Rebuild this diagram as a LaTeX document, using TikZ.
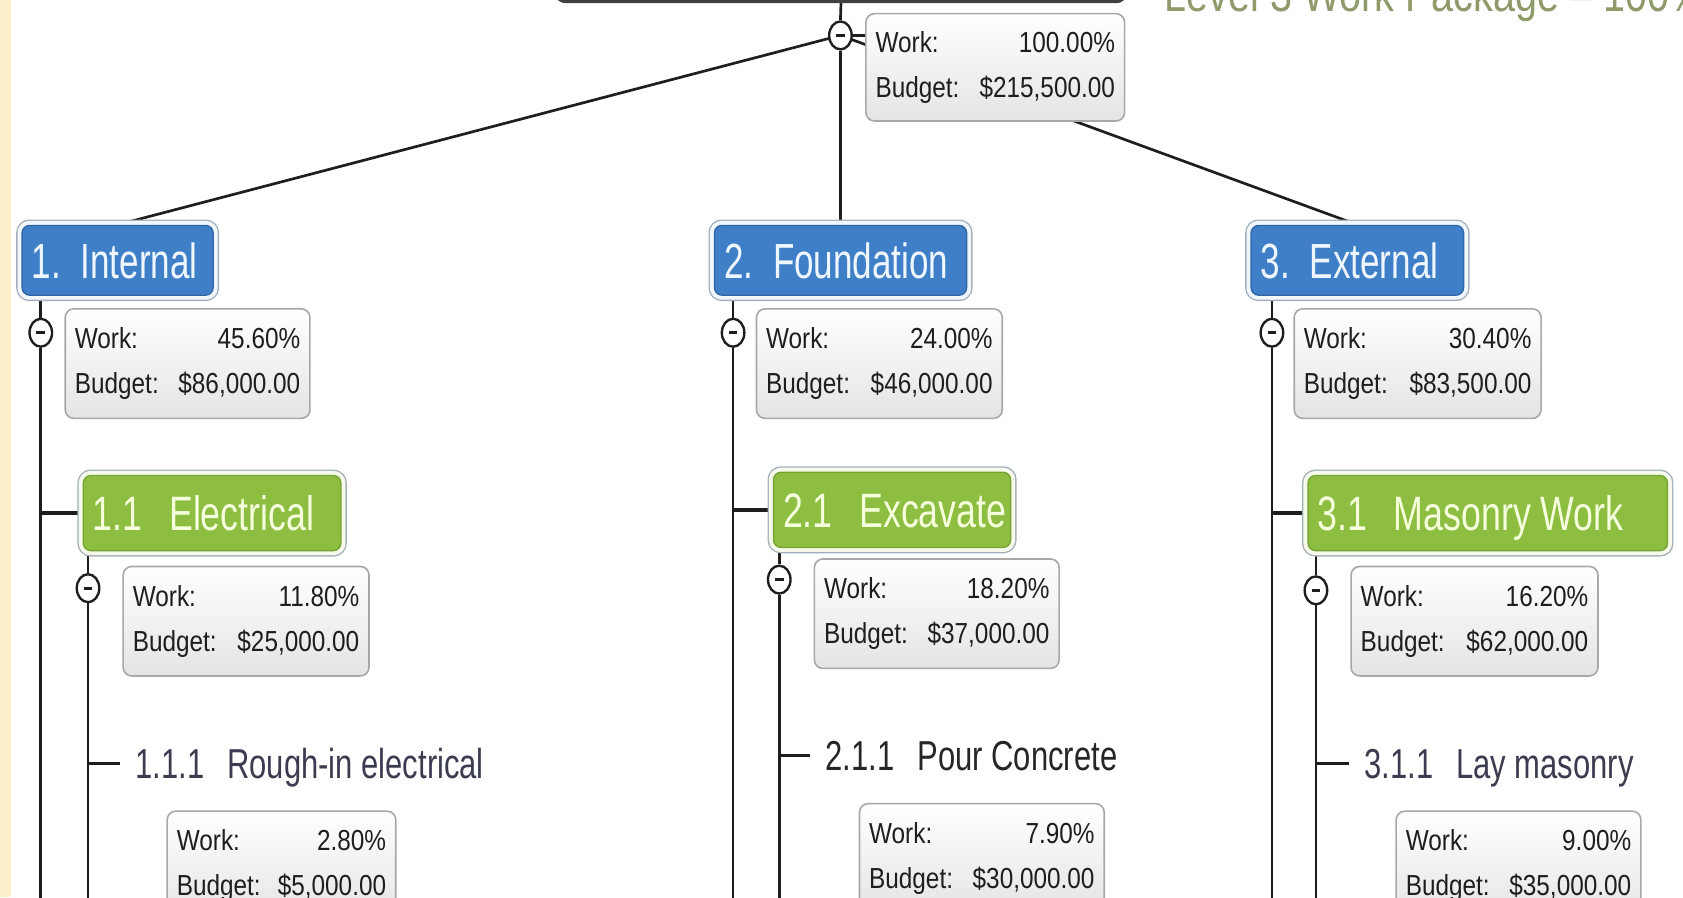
\documentclass[tikz,border=0pt]{standalone}
\usepackage{fontspec}
\usetikzlibrary{shapes.geometric}
\newfontfamily\lblfont{Liberation Sans}[FakeStretch=0.74]
\newfontfamily\topfont{Liberation Sans}[FakeStretch=0.71]
\newfontfamily\capfont{Liberation Sans}[FakeStretch=0.8]
\newfontfamily\infofont{Liberation Sans}[FakeStretch=0.84]

\definecolor{strip}{HTML}{FCEFC9}
\definecolor{wbsblue}{HTML}{3F7FC7}
\definecolor{wbsbluedk}{HTML}{2E65A6}
\definecolor{wbsgreen}{HTML}{8DBE42}
\definecolor{wbsgreendk}{HTML}{74A332}
\definecolor{halob}{HTML}{F2F7FC}
\definecolor{halog}{HTML}{F6FAEA}
\definecolor{haloline}{HTML}{A3AEBA}
\definecolor{infoline}{HTML}{A8A8A8}
\definecolor{infobot}{HTML}{E4E4E4}
\definecolor{conn}{HTML}{1E1E1E}
\definecolor{leaftext}{HTML}{3C3C50}
\definecolor{leafdark}{HTML}{262626}
\definecolor{caption}{HTML}{8E9A6A}
\definecolor{bluetext}{HTML}{EEF6FF}
\definecolor{greentext}{HTML}{F6FFDC}

\pgfdeclarelayer{bg}
\pgfsetlayers{bg,main}

\newcommand{\lblgap}{\hspace{0.55em}}
\newcommand{\topgap}{\hspace{0.4em}}
\newcommand{\wbslabel}[2]{\makebox[#1][l]{#2}}
\newcommand{\wbsinfo}[3]{\makebox[#1]{Work:\hfill #2}\\\makebox[#1]{Budget:\hfill #3}}

\tikzset{
  conn/.style={draw=conn, line width=2.5pt},
  branch/.style={draw=conn, line width=3.6pt},
  toggle/.style={ellipse, draw=conn, fill=white, line width=2.2pt,
    minimum width=21pt, minimum height=26pt, inner sep=0pt,
    path picture={\draw[conn, line width=3pt]
      ([xshift=-4pt]path picture bounding box.center) --
      ([xshift=4pt]path picture bounding box.center);}},
  wbsbox/.style={rounded corners=7pt, inner xsep=9pt, inner ysep=0pt,
    text height=33pt, text depth=0pt, anchor=west,
    font=\lblfont\fontsize{45}{54}\selectfont},
  level1/.style={wbsbox, fill=wbsblue, draw=wbsbluedk, line width=1.2pt,
    text=bluetext, minimum height=65pt,
    font=\topfont\fontsize{46}{54}\selectfont,
    preaction={draw=haloline, line width=11pt},
    preaction={draw=halob, line width=8.5pt}},
  level2/.style={wbsbox, fill=wbsgreen, draw=wbsgreendk, line width=1.2pt,
    text=greentext, minimum height=70pt,
    preaction={draw=haloline, line width=11pt},
    preaction={draw=halog, line width=8.5pt}},
  leaf/.style={font=\lblfont\fontsize{39}{46}\selectfont, text=leaftext,
    inner xsep=14pt, inner ysep=0pt, text height=28pt, text depth=0pt,
    anchor=west},
  info/.style={rounded corners=8pt, draw=infoline, line width=1.5pt,
    top color=white, bottom color=infobot, minimum height=102pt,
    inner sep=0pt, align=center, anchor=north west, text=conn,
    font=\infofont\fontsize{27}{42}\selectfont},
  rootbox/.style={rounded corners=9pt, draw=conn!85, line width=3pt,
    fill=white, anchor=south},
  captionstyle/.style={font=\capfont\fontsize{46}{54}\selectfont,
    text=caption, inner sep=0pt, anchor=base west}
}

\begin{document}
\begin{tikzpicture}[x=1pt, y=-1pt]
\useasboundingbox (0,0) rectangle (1568,836);
\begin{pgfonlayer}{bg}
  \fill[white] (0,0) rectangle (1568,836);
  \fill[strip] (0,0) rectangle (10,836);
\end{pgfonlayer}
\coordinate (bottom) at (0,850);

% project root and its roll-up
\node[rootbox, minimum width=531pt, minimum height=60pt] (root) at (783.5,3) {};
\node[captionstyle] (cap) at (1085,11) {Level 3 Work Package – 100\%};
\node[toggle] (t0) at (783,33) {};
\node[info, minimum width=241pt, minimum height=100pt] (i0) at (806,12)
  {\wbsinfo{223pt}{100.00\%}{\$215,500.00}};

% level 1
\node[level1, minimum width=178pt] (n1) at (20,242.5) {\wbslabel{160pt}{1.\topgap Internal}};
\node[level1, minimum width=235pt] (n2) at (665,242.5) {\wbslabel{217pt}{2.\topgap Foundation}};
\node[level1, minimum width=198pt] (n3) at (1165,242.5) {\wbslabel{180pt}{3.\topgap External}};

\node[toggle] (t1) at (38,310) {};
\node[toggle] (t2) at (683,310) {};
\node[toggle] (t3) at (1185,310) {};

\node[info, minimum width=228pt] (i1) at (60,287) {\wbsinfo{210pt}{45.60\%}{\$86,000.00}};
\node[info, minimum width=229pt] (i2) at (704,287) {\wbsinfo{211pt}{24.00\%}{\$46,000.00}};
\node[info, minimum width=230pt] (i3) at (1205,287) {\wbsinfo{212pt}{30.40\%}{\$83,500.00}};

% level 2
\node[level2, minimum width=240pt] (n11) at (77,478) {\wbslabel{222pt}{1.1\lblgap Electrical}};
\node[level2, minimum width=221pt] (n21) at (720,475) {\wbslabel{203pt}{2.1\lblgap Excavate}};
\node[level2, minimum width=335pt] (n31) at (1218,478) {\wbslabel{317pt}{3.1\lblgap Masonry Work}};

\node[toggle] (t11) at (82,548) {};
\node[toggle] (t21) at (726,540) {};
\node[toggle] (t31) at (1226,550) {};

\node[info, minimum width=229pt] (i11) at (114,527) {\wbsinfo{211pt}{11.80\%}{\$25,000.00}};
\node[info, minimum width=228pt] (i21) at (758,520) {\wbsinfo{210pt}{18.20\%}{\$37,000.00}};
\node[info, minimum width=230pt] (i31) at (1258,527) {\wbsinfo{212pt}{16.20\%}{\$62,000.00}};

% level 3 work packages
\node[leaf] (n111) at (112,711) {1.1.1\lblgap Rough-in electrical};
\node[leaf, text=leafdark] (n211) at (755,704) {2.1.1\lblgap Pour Concrete};
\node[leaf] (n311) at (1257,711) {3.1.1\lblgap Lay masonry};

\node[info, minimum width=213pt] (i111) at (155,755) {\wbsinfo{195pt}{2.80\%}{\$5,000.00}};
\node[info, minimum width=228pt] (i211) at (800,748) {\wbsinfo{210pt}{7.90\%}{\$30,000.00}};
\node[info, minimum width=228pt] (i311) at (1300,755) {\wbsinfo{210pt}{9.00\%}{\$35,000.00}};

% connectors, kept underneath the boxes
\begin{pgfonlayer}{bg}
  \draw[conn] (root.south) -- (t0.north);
  \draw[conn] (t0.east) -- (i0.west |- t0.east);
  \draw[conn] (t0.center) -- (n1.north);
  \draw[conn] (t0.center) -- (n3.north);
  \draw[conn] (t0.south) -- (t0.south |- n2.north);

  \foreach \a/\b/\c/\d/\e in {n1/t1/n11/t11/n111, n2/t2/n21/t21/n211, n3/t3/n31/t31/n311}{
    \draw[conn] (\a.south -| \b.north) -- (\b.north);
    \draw[conn] (\b.south) -- (\b.south |- bottom);
    \draw[branch] (\b.south |- \c.west) -- (\c.west);
    \draw[conn] (\c.south -| \d.north) -- (\d.north);
    \draw[conn] (\d.south) -- (\d.south |- bottom);
    \draw[conn] (\d.south |- \e.west) -- (\e.west);
  }
\end{pgfonlayer}
\end{tikzpicture}
\end{document}
